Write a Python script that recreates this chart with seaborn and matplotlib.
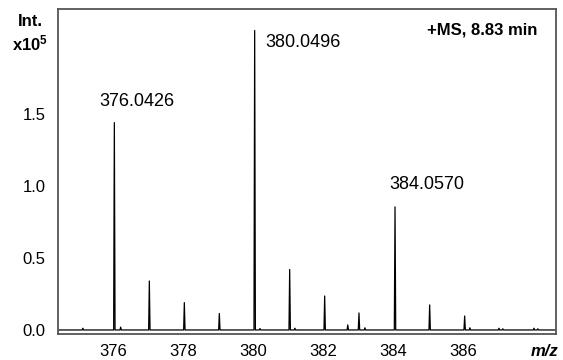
import numpy as np
import pandas as pd
import matplotlib
matplotlib.use("Agg")
import matplotlib.pyplot as plt
import seaborn as sns

# ---- data ----
peak_mz = [375.14, 376.04, 376.22, 377.04, 378.04, 379.04, 380.05, 380.20,
           381.05, 381.20, 382.05, 382.71, 383.03, 383.20, 384.06, 385.05,
           386.05, 386.20, 387.03, 387.14, 388.03, 388.14]
peak_int = [0.012, 1.44, 0.02, 0.34, 0.19, 0.115, 2.08, 0.01,
            0.42, 0.012, 0.236, 0.035, 0.118, 0.015, 0.855, 0.174,
            0.097, 0.015, 0.012, 0.008, 0.012, 0.008]
label_mz = [376.0426, 380.0496, 384.0570]
label_text = ["376.0426", "380.0496", "384.0570"]
xtick_vals = [376, 378, 380, 382, 384, 386]
ytick_vals = [0.0, 0.5, 1.0, 1.5]
xlim = (374.43, 388.66)
ylim = (-0.028, 2.229)

# ---- build profile trace (peak apex + baseline either side) ----
hw = 0.02
xs, ys = [xlim[0]], [0.0]
for m, h in zip(peak_mz, peak_int):
    xs += [m - hw, m, m + hw]
    ys += [0.0, h, 0.0]
xs.append(xlim[1]); ys.append(0.0)
trace = pd.DataFrame({"mz": xs, "intensity": ys})

sns.set_theme(style="white")
plt.rcParams["font.family"] = ["Liberation Sans", "DejaVu Sans"]
plt.rcParams["text.color"] = "black"
plt.rcParams["mathtext.fontset"] = "custom"
plt.rcParams["mathtext.rm"] = "Liberation Sans"
plt.rcParams["mathtext.bf"] = "Liberation Sans:bold"

fig = plt.figure(figsize=(5.63, 3.60), dpi=100)
ax = fig.add_axes([58 / 563, 1 - 334 / 360, (556 - 58) / 563, (334 - 9) / 360])

sns.lineplot(data=trace, x="mz", y="intensity", sort=False, ax=ax,
             color="black", linewidth=0.9, estimator=None)

ax.set_xlim(*xlim)
ax.set_ylim(*ylim)
ax.set_xticks(xtick_vals + [388])
ax.set_xticklabels([str(v) for v in xtick_vals] + [""])
ax.set_yticks(ytick_vals)
ax.set_yticklabels([f"{v:.1f}" for v in ytick_vals])
ax.tick_params(axis="x", direction="out", length=3, width=0.8, color="#666666",
               labelsize=12, pad=4, labelcolor="black")
ax.tick_params(axis="y", length=0, labelsize=12, pad=9, labelcolor="black")
ax.set_xlabel("")
ax.set_ylabel("")
for s in ax.spines.values():
    s.set_color("#555555")
    s.set_linewidth(1.3)
    s.set_visible(True)

# peak labels
offsets = [(-15, 13, "bottom"), (11, -4, "top"), (-6, 14, "bottom")]
for m, t, (dx, dy, va) in zip(label_mz, label_text, offsets):
    near = min(peak_mz, key=lambda p: abs(p - m))
    h = peak_int[peak_mz.index(near)]
    ax.annotate(t, xy=(near, h), xytext=(dx, dy), textcoords="offset pixels",
                ha="left", va=va, fontsize=13, color="black")

ax.text((537 - 58) / 498, 0.935, "+MS, 8.83 min", transform=ax.transAxes, ha="right",
        va="center", fontsize=12, fontweight="bold", color="black")

fig.text(30 / 563, 1 - 22 / 360, "Int.", ha="center", va="center",
         fontsize=12, fontweight="bold", color="black")
fig.text(30 / 563, 1 - 43 / 360, r"$\mathbf{x10^5}$", ha="center", va="center",
         fontsize=12, color="black")
fig.text(545 / 563, 1 - 352 / 360, "m/z", ha="center", va="center",
         fontsize=12, fontweight="bold", fontstyle="italic", color="black")

fig.savefig("out.png", dpi=100)
